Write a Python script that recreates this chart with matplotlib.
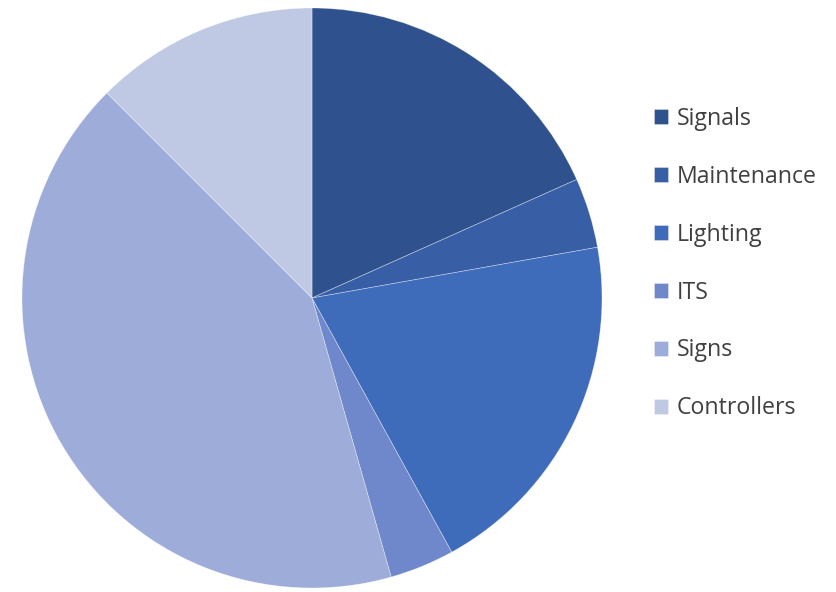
import matplotlib
matplotlib.use("Agg")
import matplotlib.pyplot as plt

# shares (percent, clockwise from 12 o'clock)
categories = ["Signals", "Maintenance", "Lighting", "ITS", "Signs", "Controllers"]
shares = [18.3, 3.9, 19.8, 3.6, 41.9, 12.5]
colors = ["#2F528F", "#385EA5", "#3E6BBA", "#6E88CB", "#9DACD8", "#BFC9E3"]

fig = plt.figure(figsize=(8.37, 5.92), dpi=100)
ax = fig.add_axes([22 / 837, 4 / 592, 580 / 837, 580 / 592])

wedges, _ = ax.pie(shares, colors=colors, startangle=90, counterclock=False,
                   radius=1.0, wedgeprops=dict(edgecolor=(1, 1, 1, 0.45), linewidth=0.5))
ax.set_xlim(-1, 1)
ax.set_ylim(-1, 1)
ax.set_aspect("equal")
ax.axis("off")

leg = fig.legend(wedges, categories, loc="upper left",
                 bbox_to_anchor=(654 / 837, 1 - 107 / 592),
                 frameon=False, handlelength=0.62, handleheight=0.62,
                 handletextpad=0.36, labelspacing=1.46, borderaxespad=0, borderpad=0,
                 prop={"family": "Open Sans", "size": 16.7})
for t in leg.get_texts():
    t.set_color("#404040")

fig.savefig("out.png", dpi=100)
